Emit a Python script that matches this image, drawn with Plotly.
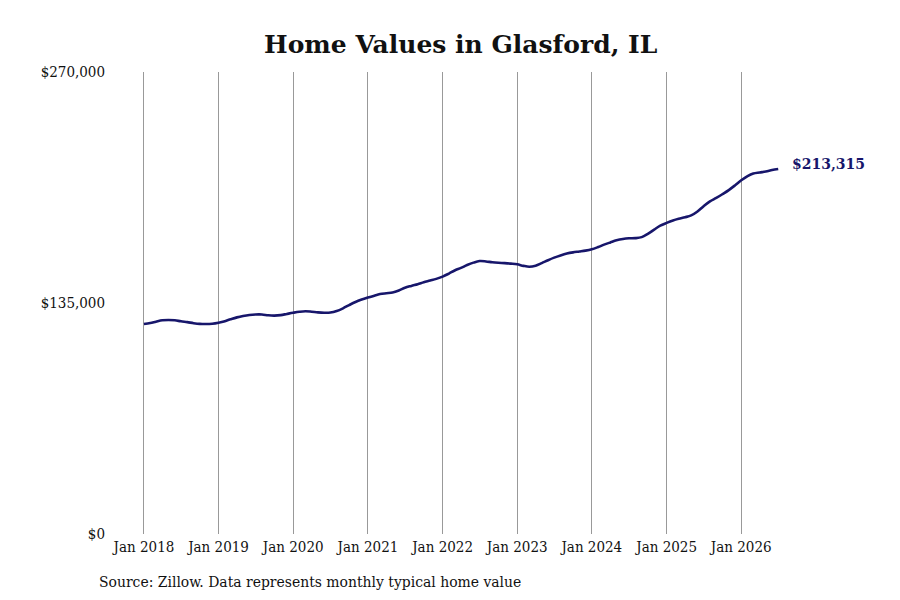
import pandas as pd
import plotly.graph_objects as go

# Monthly typical home value, Glasford IL
months = pd.date_range("2018-01-01", "2026-07-01", freq="MS")
values = [
    122700, 123300, 124100, 124900, 125100, 124900, 124300, 123800, 123200, 122800, 122700, 122900,
    123500, 124400, 125500, 126600, 127400, 128000, 128300, 128300, 127800, 127600, 127900, 128600,
    129300, 129900, 130200, 129900, 129500, 129300, 129400, 130300, 131900, 133800, 135600, 137000,
    138200, 139300, 140200, 140700, 141100, 142300, 143900, 145000, 146000, 147100, 148100, 149100,
    150400, 152200, 154000, 155500, 157200, 158600, 159500, 159300, 158800, 158500, 158300, 158000,
    157600, 156700, 156200, 156800, 158300, 160000, 161500, 162800, 163900, 164600, 165100, 165600,
    166400, 167700, 169100, 170400, 171600, 172400, 172800, 172900, 173500, 175400, 177900, 180200,
    181800, 183200, 184200, 185100, 186200, 188500, 191600, 194400, 196400, 198600, 201000, 203700,
    206700, 209200, 210700, 211300, 211800, 212700, 213315,
]
tick_dates = pd.date_range("2018-01-01", "2026-01-01", freq="YS")
tick_labels = [d.strftime("Jan %Y") for d in tick_dates]
y_ticks = [0, 135000, 270000]
y_labels = ["$0", "$135,000", "$270,000"]

LINE = "#17166b"
SERIF = "DejaVu Serif Condensed, DejaVu Serif, Liberation Serif, serif"

fig = go.Figure()
fig.add_trace(go.Scatter(
    x=months, y=values, mode="lines",
    line=dict(color=LINE, width=2.6, shape="spline"),
    hoverinfo="skip",
))

# label at the last point
fig.add_annotation(
    x=months[-1], y=values[-1], text=f"<b>${values[-1]:,}</b>",
    xanchor="left", xshift=12, yshift=5, showarrow=False,
    font=dict(family="DejaVu Serif, serif", size=14, color=LINE),
)

# source note under the axis
fig.add_annotation(
    x=-0.0173, y=0, xref="paper", yref="paper",
    text="Source: Zillow. Data represents monthly typical home value",
    xanchor="left", yanchor="middle", yshift=-48, showarrow=False,
    font=dict(family=SERIF, size=15.5, color="#111111"),
)

fig.update_layout(
    width=900, height=600,
    paper_bgcolor="white", plot_bgcolor="white",
    margin=dict(l=102, r=48, t=64, b=74),
    showlegend=False,
    title=dict(
        text="<b>Home Values in Glasford, IL</b>",
        x=0.503, xanchor="center", y=0.94, yanchor="middle",
        font=dict(family="DejaVu Serif, serif", size=25, color="#111111"),
    ),
    font=dict(family=SERIF, size=15, color="#111111"),
)

fig.update_xaxes(
    range=["2017-07-19", "2027-08-05"],
    tickvals=tick_dates, ticktext=tick_labels,
    showgrid=True, gridcolor="#999999", gridwidth=1,
    ticks="", ticklabelstandoff=2,
    showline=False, zeroline=False,
)
fig.update_yaxes(
    range=[0, 270000],
    tickvals=y_ticks, ticktext=y_labels,
    showgrid=False, zeroline=False, showline=False,
    ticks="", ticklabelstandoff=4,
)

fig.write_html("out.html")
